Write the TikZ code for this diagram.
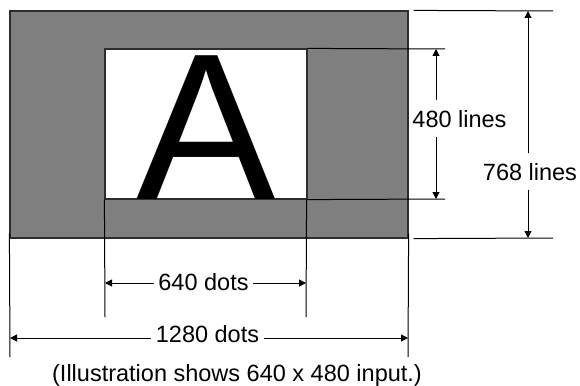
\documentclass[tikz,border=0pt]{standalone}
\usepackage{fontspec}
\setmainfont{Liberation Sans}
\usetikzlibrary{arrows.meta, positioning, calc}
\definecolor{screengray}{RGB}{128,128,128}
\definecolor{edgegray}{RGB}{45,45,45}

\begin{document}
\begin{tikzpicture}[
  x=1pt, y=-1pt,
  every node/.style={font=\fontsize{23.5}{28}\selectfont},
  arr/.style={-{Triangle[length=7pt, width=7pt]}, line width=1pt, color=black},
  ext/.style={line width=1pt, color=black},
  vlabel/.style={anchor=base, inner xsep=0pt, inner ysep=9.5pt},
  hlabel/.style={anchor=base, inner xsep=4.5pt, inner ysep=0pt}
]
\useasboundingbox (0,0) rectangle (580,385);

% Screen areas
\node[draw=edgegray, fill=screengray, line width=1.2pt, inner sep=0pt,
      minimum width=398pt, minimum height=227pt] (full) at (209,124.5) {};
\node[draw=edgegray, fill=white, line width=1.2pt, inner sep=0pt,
      minimum width=202pt, minimum height=150pt] (input) at (206,124) {};
\node[anchor=base, inner sep=0pt, font=\fontsize{209}{209}\selectfont] (glyph) at (206,199) {A};

% Extension lines
\coordinate (e768t) at (553,11);
\coordinate (e768b) at (553,238);
\coordinate (e480t) at (445,49);
\coordinate (e480b) at (445,199);
\coordinate (e640l) at (105,317);
\coordinate (e640r) at (306,317);
\coordinate (e1280l) at (10,357);
\coordinate (e1280r) at (408,357);

\draw[ext] ([xshift=5pt]full.north east) -- (e768t);
\draw[ext] ([xshift=5pt]full.south east) -- (e768b);
\draw[ext] (input.north east) -- (e480t);
\draw[ext] (input.south east) -- (e480b);
\draw[ext] (input.south west) -- (e640l);
\draw[ext] ([xshift=-1pt]input.south east) -- (e640r);
\draw[ext] ([yshift=5pt]full.south west) -- (e1280l);
\draw[ext] ([yshift=5pt]full.south east) -- (e1280r);

% Labels
\node[vlabel] (l480) at (459.5,127) {480 lines};
\node[vlabel] (l768) at (530,180) {768 lines};
\node[hlabel] (l640) at (203.5,290) {640 dots};
\node[hlabel] (l1280) at (207.5,342) {1280 dots};
\node[anchor=base, inner sep=0pt] (caption) at (237,381) {(Illustration shows 640 x 480 input.)};

% Arrows
\coordinate (d480t) at (436,49);
\coordinate (d480b) at (436,199);
\coordinate (d768t) at (528,11);
\coordinate (d768b) at (528,238);
\coordinate (d640l) at (105,283);
\coordinate (d640r) at (306,283);
\coordinate (d1280l) at (10,338);
\coordinate (d1280r) at (408,338);

\draw[arr] (l480.north -| d480t) -- (d480t);
\draw[arr] (l480.south -| d480b) -- (d480b);
\draw[arr] (l768.north -| d768t) -- (d768t);
\draw[arr] (l768.south -| d768b) -- (d768b);
\draw[arr] (l640.west |- d640l) -- (d640l);
\draw[arr] (l640.east |- d640r) -- (d640r);
\draw[arr] (l1280.west |- d1280l) -- (d1280l);
\draw[arr] (l1280.east |- d1280r) -- (d1280r);

\end{tikzpicture}
\end{document}
